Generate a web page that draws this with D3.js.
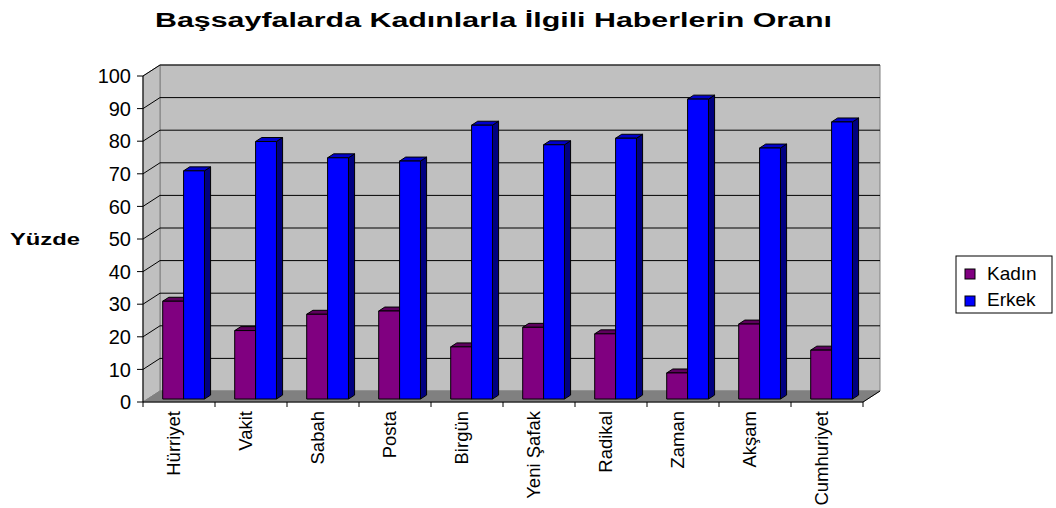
<!DOCTYPE html>
<html>
<head>
<meta charset="utf-8">
<script src="https://cdnjs.cloudflare.com/ajax/libs/d3/7.8.5/d3.min.js"></script>
<style>
	body { margin: 0; background: #fff; }
	text { font-family: "Liberation Sans", Arial, sans-serif; }
</style>
</head>
<body>
<div id="vis_container"></div>
<script>
	var categories = ["Hürriyet", "Vakit", "Sabah", "Posta", "Birgün", "Yeni Şafak", "Radikal", "Zaman", "Akşam", "Cumhuriyet"];
	var seriesNames = ["Kadın", "Erkek"];
	var kadin = [30, 21, 26, 27, 16, 22, 20, 8, 23, 15];
	var erkek = [70, 79, 74, 73, 84, 78, 80, 92, 77, 85];
	var yTicks = [0, 10, 20, 30, 40, 50, 60, 70, 80, 90, 100];

	var chart = {};
	chart.width = 1056;
	chart.height = 508;
	// oblique depth of the 3d box
	chart.dx = 17;
	chart.dy = -11;
	chart.barZ0 = 0.27;
	chart.barZ1 = 0.63;

	chart.colors = {
		"Kadın": {front: "#800080", top: "#5e005e", side: "#400040"},
		"Erkek": {front: "#0000ff", top: "#0000cc", side: "#000080"}
	};

	chart.y = d3.scaleLinear()
		.domain([0, 100])
		.range([402, 76]);

	chart.x = d3.scaleBand()
		.domain(categories)
		.range([143, 863])
		.paddingInner(0.42)
		.paddingOuter(0.21);

	chart.xAxisBand = d3.scaleBand()
		.domain(categories)
		.range([143, 863]);

	chart.xSub = d3.scaleBand()
		.domain(seriesNames)
		.range([0, chart.x.bandwidth()]);

	function proj(x, y, z) {
		return [x + z * chart.dx, y + z * chart.dy];
	}
	function pts(arr) {
		return arr.map(function(p) { return p.join(","); }).join(" ");
	}

	chart.svg = d3.select("#vis_container").append("svg")
		.attr("width", chart.width)
		.attr("height", chart.height);

	var x0 = 143, x1 = 863, yB = chart.y(0), yT = chart.y(100);

	// walls and floor
	chart.svg.append("polygon")
		.attr("points", pts([proj(x0, yT, 1), proj(x1, yT, 1), proj(x1, yB, 1), proj(x0, yB, 1)]))
		.attr("fill", "#c0c0c0")
		.attr("stroke", "#808080");
	chart.svg.append("polygon")
		.attr("points", pts([[x0, yT], proj(x0, yT, 1), proj(x0, yB, 1), [x0, yB]]))
		.attr("fill", "#c0c0c0")
		.attr("stroke", "#808080");
	chart.svg.append("polygon")
		.attr("points", pts([[x0, yB], proj(x0, yB, 1), proj(x1, yB, 1), [x1, yB]]))
		.attr("fill", "#808080")
		.attr("stroke", "#808080");

	// gridlines
	var grid = chart.svg.append("g");
	yTicks.filter(function(t) { return t > 0; }).forEach(function(t) {
		var a = [x0, chart.y(t)], b = proj(x0, chart.y(t), 1), c = proj(x1, chart.y(t), 1);
		grid.append("polyline")
			.attr("points", pts([a, b, c]))
			.attr("fill", "none")
			.attr("stroke", "#000")
			.attr("stroke-width", 1);
	});

	// bars
	var rows = categories.map(function(c, i) {
		return [{cat: c, name: "Kadın", value: kadin[i]}, {cat: c, name: "Erkek", value: erkek[i]}];
	});
	var bars = chart.svg.append("g");
	rows.forEach(function(row) {
		row.forEach(function(d) {
			var xl = chart.x(d.cat) + chart.xSub(d.name);
			var xr = xl + chart.xSub.bandwidth();
			var yb = chart.y(0), yt = chart.y(d.value);
			var z0 = chart.barZ0, z1 = chart.barZ1;
			var col = chart.colors[d.name];
			var g = bars.append("g").attr("stroke", "#000").attr("stroke-width", 1).attr("stroke-linejoin", "round");
			g.append("polygon")
				.attr("points", pts([proj(xr, yt, z0), proj(xr, yt, z1), proj(xr, yb, z1), proj(xr, yb, z0)]))
				.attr("fill", col.side);
			g.append("polygon")
				.attr("points", pts([proj(xl, yt, z0), proj(xl, yt, z1), proj(xr, yt, z1), proj(xr, yt, z0)]))
				.attr("fill", col.top);
			g.append("polygon")
				.attr("points", pts([proj(xl, yt, z0), proj(xr, yt, z0), proj(xr, yb, z0), proj(xl, yb, z0)]))
				.attr("fill", col.front);
		});
	});

	// y axis
	chart.svg.append("line")
		.attr("x1", x0).attr("x2", x0)
		.attr("y1", yT).attr("y2", yB)
		.attr("stroke", "#000");
	var yAx = chart.svg.append("g");
	yTicks.forEach(function(t) {
		yAx.append("line")
			.attr("x1", x0 - 6).attr("x2", x0)
			.attr("y1", chart.y(t)).attr("y2", chart.y(t))
			.attr("stroke", "#000");
		yAx.append("text")
			.attr("x", x0 - 12)
			.attr("y", chart.y(t))
			.attr("dy", "0.36em")
			.attr("text-anchor", "end")
			.attr("font-size", 20)
			.attr("fill", "#000")
			.text(t);
	});

	// x axis
	chart.svg.append("polyline")
		.attr("points", pts([[x0, yB], [x1, yB], proj(x1, yB, 1)]))
		.attr("fill", "none")
		.attr("stroke", "#000");
	var xAx = chart.svg.append("g");
	categories.concat([null]).forEach(function(c, i) {
		var xx = c === null ? x1 : chart.xAxisBand(c);
		xAx.append("line")
			.attr("x1", xx).attr("x2", xx)
			.attr("y1", yB).attr("y2", yB + 5)
			.attr("stroke", "#000");
	});
	categories.forEach(function(c) {
		var cx = chart.xAxisBand(c) + chart.xAxisBand.bandwidth() / 2 - 5;
		xAx.append("text")
			.attr("transform", "translate(" + cx + "," + (yB + 9) + ") rotate(-90)")
			.attr("dy", "0.35em")
			.attr("text-anchor", "end")
			.attr("font-size", 18.5)
			.attr("fill", "#000")
			.text(c);
	});

	// title and axis label
	chart.svg.append("text")
		.attr("x", 155)
		.attr("y", 27)
		.attr("font-family", "DejaVu Sans, sans-serif")
		.attr("font-size", 20)
		.attr("font-weight", "bold")
		.attr("textLength", 677)
		.attr("lengthAdjust", "spacingAndGlyphs")
		.text("Başsayfalarda Kadınlarla İlgili Haberlerin Oranı");

	chart.svg.append("text")
		.attr("x", 10)
		.attr("y", 245)
		.attr("font-family", "DejaVu Sans, sans-serif")
		.attr("font-size", 17)
		.attr("font-weight", "bold")
		.attr("textLength", 70)
		.attr("lengthAdjust", "spacingAndGlyphs")
		.text("Yüzde");

	// legend
	var legend = chart.svg.append("g");
	legend.append("rect")
		.attr("x", 956).attr("y", 256)
		.attr("width", 96).attr("height", 57)
		.attr("fill", "#fff")
		.attr("stroke", "#000");
	seriesNames.forEach(function(n, i) {
		legend.append("rect")
			.attr("x", 965).attr("y", 269 + i * 27)
			.attr("width", 10).attr("height", 10)
			.attr("fill", chart.colors[n].front)
			.attr("stroke", "#000");
		legend.append("text")
			.attr("x", 987)
			.attr("y", 280 + i * 26)
			.attr("font-size", 19)
			.attr("fill", "#000")
			.text(n);
	});
</script>
</body>
</html>
